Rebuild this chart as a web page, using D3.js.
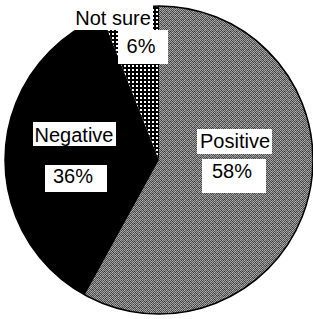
<!DOCTYPE html>
<html><head><meta charset="utf-8">
<script src="https://cdn.jsdelivr.net/npm/d3@7"></script>
<style>html,body{margin:0;padding:0;background:#fff;}svg{display:block;}</style>
</head><body>
<script>
const categories = ["Positive", "Negative", "Not sure"];
const values = [58, 36, 6];
const valueLabels = ["58%", "36%", "6%"];

// label layout (box positions, px) — presentation only
const nameBoxes = [
  {x:197, y:129, w:75, h:25, tx:235, ty:148},
  {x:33,  y:122, w:83, h:24, tx:74,  ty:142},
  {x:72,  y:1,   w:81, h:29, tx:113, ty:25}
];
const valueBoxes = [
  {x:202, y:159, w:64, h:34, tx:232, ty:178},
  {x:45,  y:165, w:62, h:27, tx:73,  ty:183},
  {x:118, y:30,  w:50, h:34, tx:141, ty:53}
];

const W = 313, H = 319, cx = 159, cy = 160, r = 154;
const svg = d3.select("body").append("svg").attr("width", W).attr("height", H);
const defs = svg.append("defs");

// gray dithered texture for Positive
const pg = defs.append("pattern").attr("id","gray").attr("patternUnits","userSpaceOnUse")
  .attr("width",6).attr("height",6);
const grid = [
  ["#3c3c3c","#b0b0b0","#585858","#9c9c9c","#444444","#a8a8a8"],
  ["#a4a4a4","#383838","#949494","#606060","#b4b4b4","#505050"],
  ["#646464","#a0a0a0","#3a3a3a","#acacac","#5c5c5c","#989898"],
  ["#8c8c8c","#545454","#a8a8a8","#404040","#9a9a9a","#343434"],
  ["#484848","#b8b8b8","#5a5a5a","#949494","#3e3e3e","#a4a4a4"],
  ["#9e9e9e","#4c4c4c","#8e8e8e","#686868","#b0b0b0","#5e5e5e"]
];
grid.forEach((row,j)=>row.forEach((c,i)=>{
  pg.append("rect").attr("x",i).attr("y",j).attr("width",1).attr("height",1).attr("fill",c);
}));
// dotted texture for Not sure
const pd = defs.append("pattern").attr("id","dots").attr("patternUnits","userSpaceOnUse")
  .attr("width",4).attr("height",4);
pd.append("rect").attr("width",4).attr("height",4).attr("fill","#000");
pd.append("rect").attr("x",1).attr("y",1).attr("width",2).attr("height",2).attr("fill","#fff");

const fills = {"Positive":"url(#gray)", "Negative":"#000", "Not sure":"url(#dots)"};

const pie = d3.pie().sort(null).value(d => d.v);
const data = categories.map((c,i)=>({c, v: values[i], lab: valueLabels[i], i}));
const arcs = pie(data);
const arc = d3.arc().innerRadius(0).outerRadius(r);

const g = svg.append("g").attr("transform", `translate(${cx},${cy})`);
g.selectAll("path").data(arcs).enter().append("path")
  .attr("d", arc).attr("fill", d => fills[d.data.c]);
g.append("circle").attr("r", r).attr("fill","none").attr("stroke","#000").attr("stroke-width",1.5);

const font = "'Liberation Sans', Arial, Helvetica, sans-serif";
data.forEach((d,i)=>{
  const nb = nameBoxes[i], vb = valueBoxes[i];
  svg.append("rect").attr("x",nb.x).attr("y",nb.y).attr("width",nb.w).attr("height",nb.h).attr("fill","#fff");
  svg.append("text").attr("x",nb.tx).attr("y",nb.ty).attr("text-anchor","middle")
    .attr("font-family",font).attr("font-size",20).attr("fill","#000").text(d.c);
  svg.append("rect").attr("x",vb.x).attr("y",vb.y).attr("width",vb.w).attr("height",vb.h).attr("fill","#fff");
  svg.append("text").attr("x",vb.tx).attr("y",vb.ty).attr("text-anchor","middle")
    .attr("font-family",font).attr("font-size",20).attr("fill","#000").text(d.lab);
});
</script>
</body></html>
